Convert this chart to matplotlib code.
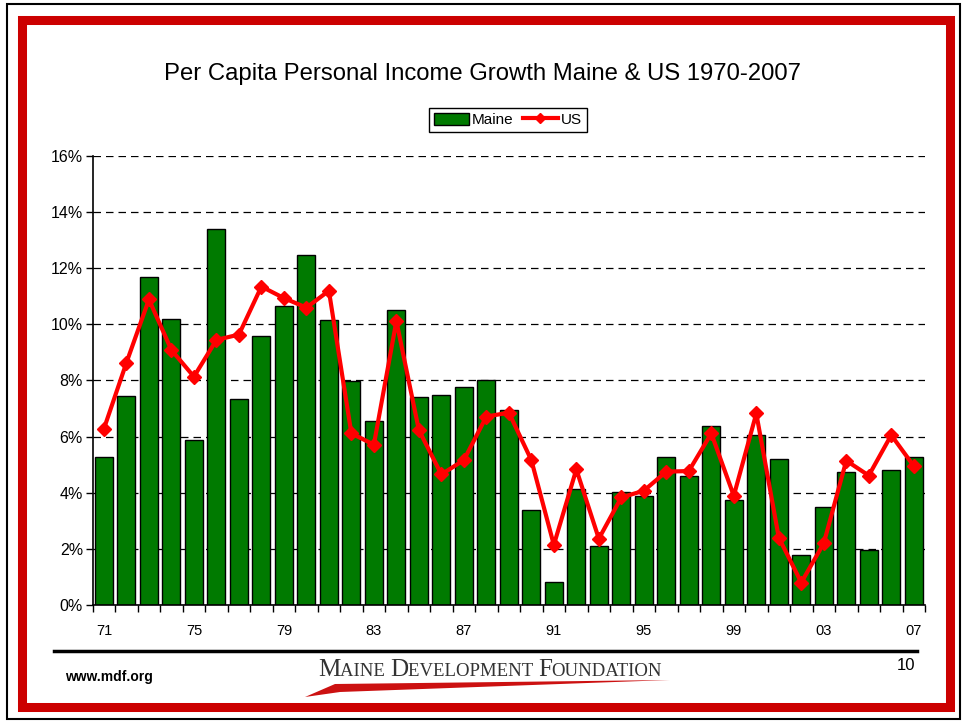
import matplotlib
matplotlib.use("Agg")
import matplotlib.pyplot as plt
from matplotlib.patches import Rectangle, Polygon
from matplotlib.lines import Line2D
from matplotlib.ticker import FixedLocator, PercentFormatter

# ── Data ──────────────────────────────────────────────────────────────────────
years = ["71", "72", "73", "74", "75", "76", "77", "78", "79", "80", "81", "82",
         "83", "84", "85", "86", "87", "88", "89", "90", "91", "92", "93", "94",
         "95", "96", "97", "98", "99", "00", "01", "02", "03", "04", "05", "06", "07"]
maine = [5.26, 7.44, 11.67, 10.18, 5.88, 13.38, 7.35, 9.57, 10.63, 12.45, 10.14, 7.96,
         6.54, 10.50, 7.42, 7.47, 7.77, 8.00, 6.96, 3.38, 0.83, 4.13, 2.10, 4.01,
         3.87, 5.26, 4.59, 6.37, 3.75, 6.05, 5.19, 1.78, 3.50, 4.75, 1.97, 4.80, 5.28]
us = [6.28, 8.63, 10.88, 9.08, 8.13, 9.44, 9.63, 11.34, 10.93, 10.59, 11.19, 6.11,
      5.71, 10.11, 6.23, 4.65, 5.16, 6.71, 6.85, 5.16, 2.14, 4.83, 2.36, 3.83,
      4.07, 4.75, 4.77, 6.11, 3.89, 6.82, 2.40, 0.80, 2.20, 5.14, 4.61, 6.05, 4.95]
label_years = ["71", "75", "79", "83", "87", "91", "95", "99", "03", "07"]

FONT = "Liberation Sans"

fig = plt.figure(figsize=(9.64, 7.21), dpi=100)
W, H = 964, 721


def px(x, y):
    """pixel coords (top-left origin) -> figure fraction"""
    return x / W, 1 - y / H


# ── Frame: thin black outer border and thick red inner border ─────────────────
fig.patches.append(Rectangle(px(7, 719), 953 / W, 715 / H, transform=fig.transFigure,
                             fill=False, edgecolor="black", linewidth=1.5))
fig.patches.append(Rectangle(px(22, 707), 928 / W, 687 / H, transform=fig.transFigure,
                             fill=False, edgecolor="#cc0000", linewidth=6.5))

# ── Axes ──────────────────────────────────────────────────────────────────────
ax = fig.add_axes([92.7 / W, 1 - 605 / H, 832.3 / W, 449.3 / H])
x = list(range(len(years)))
ax.bar(x, maine, width=0.8, color="#007a00", edgecolor="black", linewidth=1.0,
       zorder=2, label="Maine")
ax.plot(x, us, color="#ff0000", linewidth=3, marker="D", markersize=7,
        zorder=3, label="US")

ax.set_xlim(-0.5, len(years) - 0.5)
ax.set_ylim(0, 16)
ax.set_yticks(range(0, 17, 2))
ax.yaxis.set_major_formatter(PercentFormatter(decimals=0))
ax.yaxis.grid(True, linestyle=(0, (6, 4)), color="black", linewidth=0.9, zorder=0)
ax.set_axisbelow(True)

ax.xaxis.set_major_locator(FixedLocator([i - 0.5 for i in range(len(years) + 1)]))
ax.set_xticklabels([])
ax.xaxis.set_minor_locator(FixedLocator([years.index(y) for y in label_years]))
ax.set_xticklabels(label_years, minor=True)
ax.tick_params(axis="x", which="major", direction="out", length=5, width=1)
ax.tick_params(axis="x", which="minor", length=0, pad=14, labelsize=10.5)
ax.tick_params(axis="y", direction="out", length=5, width=1, labelsize=11.5, pad=2)
for lbl in ax.get_xticklabels(minor=True) + ax.get_yticklabels():
    lbl.set_fontfamily(FONT)

ax.spines["top"].set_visible(False)
ax.spines["right"].set_visible(False)
ax.spines["left"].set_linewidth(1.2)
ax.spines["bottom"].set_linewidth(1.2)

# ── Title and legend ──────────────────────────────────────────────────────────
fig.text(*px(483, 74), "Per Capita Personal Income Growth Maine & US 1970-2007",
         ha="center", va="center", fontsize=17.2, family=FONT)
handles = [Rectangle((0, 0), 1, 1, facecolor="#007a00", edgecolor="black", linewidth=1),
           Line2D([], [], color="#ff0000", linewidth=3, marker="D", markersize=5)]
fig.legend(handles, ["Maine", "US"], loc="center", bbox_to_anchor=px(508, 120),
           ncol=2, frameon=True, fancybox=False, edgecolor="black", framealpha=1,
           prop={"family": FONT, "size": 11}, handlelength=2.3, handletextpad=0.2,
           columnspacing=0.6, borderpad=0.3, handleheight=0.9)

# ── Footer ────────────────────────────────────────────────────────────────────
fig.add_artist(Line2D([54 / W, 917 / W], [1 - 651 / H, 1 - 651 / H],
                      color="black", linewidth=2.5))
fig.text(*px(65, 677), "www.mdf.org", ha="left", va="center", fontsize=10,
         fontweight="bold", family=FONT)
fig.text(*px(906, 665), "10", ha="center", va="center", fontsize=12, family=FONT)

# logo: small-caps serif wordmark with a red swoosh underneath
logo = [("M", 18), ("AINE ", 13.5), ("D", 18), ("EVELOPMENT ", 13.5),
        ("F", 18), ("OUNDATION", 13.5)]
renderer = fig.canvas.get_renderer()
xpos = 318
for part, size in logo:
    t = fig.text(*px(xpos, 676), part, ha="left", va="baseline", fontsize=size,
                 family="Liberation Serif", color="#333333")
    xpos += t.get_window_extent(renderer).width
fig.patches.append(Polygon([px(305, 697), px(335, 684), px(670, 680), px(340, 692)],
                           closed=True, transform=fig.transFigure,
                           facecolor="#cc1111", edgecolor="none"))

fig.savefig("out.png", dpi=100)
